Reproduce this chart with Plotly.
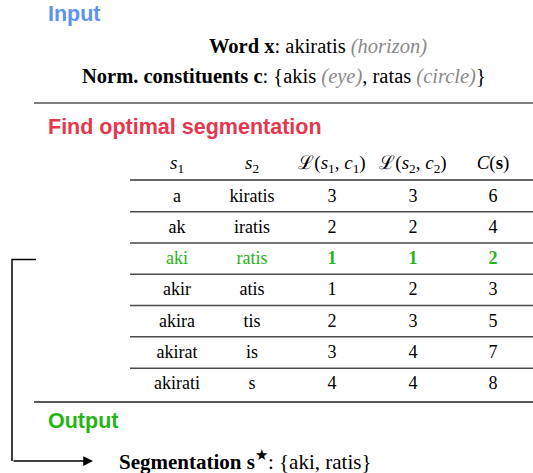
import plotly.graph_objects as go

# table data
s1 = ["a", "ak", "aki", "akir", "akira", "akirat", "akirati"]
s2 = ["kiratis", "iratis", "ratis", "atis", "tis", "is", "s"]
loss1 = [3, 2, 1, 1, 2, 3, 4]
loss2 = [3, 2, 1, 2, 3, 4, 4]
cost = [6, 4, 2, 3, 5, 7, 8]
headers = ["<i>s</i><sub>1</sub>", "<i>s</i><sub>2</sub>",
           "ℒ(<i>s</i><sub>1</sub>, <i>c</i><sub>1</sub>)",
           "ℒ(<i>s</i><sub>2</sub>, <i>c</i><sub>2</sub>)",
           "<i>C</i>(<b>s</b>)"]
best = cost.index(min(cost))

W, H = 533, 473
SERIF = "Liberation Serif, Times New Roman, serif"
SANS = "Liberation Sans, Arial, sans-serif"
BLUE = "#5b93ef"
RED = "#e5374d"
GREEN = "#26b417"
GREY = "#8a8a8a"
RULE = "#4a4a4a"

col_x = [177, 252, 332, 413, 493]
header_y = 164
row_y0, row_h = 197, 31.3

fig = go.Figure()

# header
fig.add_trace(go.Scatter(
    x=col_x, y=[header_y] * 5, mode="text", text=headers,
    textfont=dict(family=SERIF, size=19, color="black"),
    hoverinfo="skip",
))

# rows
columns = [s1, s2, loss1, loss2, cost]
for i in range(len(s1)):
    y = row_y0 + i * row_h
    txt = [str(c[i]) for c in columns]
    color = "black"
    if i == best:
        color = GREEN
        txt = txt[:2] + ["<b>%s</b>" % t for t in txt[2:]]
    fig.add_trace(go.Scatter(
        x=col_x, y=[y] * 5, mode="text", text=txt,
        textfont=dict(family=SERIF, size=18, color=color),
        hoverinfo="skip",
    ))

# table rules
fig.add_shape(type="line", x0=130, x1=W, y0=180, y1=180,
              line=dict(color="#666", width=2))
for i in range(len(s1) - 1):
    y = row_y0 + i * row_h + row_h / 2 - 1
    fig.add_shape(type="line", x0=130, x1=W, y0=y, y1=y,
                  line=dict(color=RULE, width=1.5))
fig.add_shape(type="line", x0=34, x1=W, y0=402, y1=402,
              line=dict(color="#222", width=1.5))
fig.add_shape(type="line", x0=34, x1=W, y0=103, y1=103,
              line=dict(color="#555", width=1.5))

# connector from best row to output
best_y = row_y0 + best * row_h
fig.add_shape(type="path", path="M 36 %f L 12 %f L 12 461" % (best_y, best_y),
              line=dict(color="black", width=1.5))
fig.add_annotation(x=93, y=461, ax=12, ay=461, axref="x", ayref="y",
                   xref="x", yref="y", text="", showarrow=True,
                   arrowhead=2, arrowsize=1.3, arrowwidth=1.5,
                   arrowcolor="black")

# section titles
fig.add_annotation(x=46, y=14, text="<b>Input</b>", xanchor="left",
                   showarrow=False, font=dict(family=SANS, size=21.5, color=BLUE))
fig.add_annotation(x=46, y=127, text="<b>Find optimal segmentation</b>",
                   xanchor="left", showarrow=False,
                   font=dict(family=SANS, size=21.5, color=RED))
fig.add_annotation(x=46, y=421, text="<b>Output</b>", xanchor="left",
                   showarrow=False, font=dict(family=SANS, size=21.5, color=GREEN))

# input / output text
fig.add_annotation(
    x=318, y=46, showarrow=False,
    text="<b>Word x</b>: akiratis <i><span style='color:%s'>(horizon)</span></i>" % GREY,
    font=dict(family=SERIF, size=20.5, color="black"))
fig.add_annotation(
    x=284, y=76, showarrow=False,
    text=("<b>Norm. constituents c</b>: {akis <i><span style='color:%s'>(eye)</span></i>, "
          "ratas <i><span style='color:%s'>(circle)</span></i>}") % (GREY, GREY),
    font=dict(family=SERIF, size=20.5, color="black"))
fig.add_annotation(
    x=117, y=460, xanchor="left", showarrow=False,
    text="<b>Segmentation s</b><sup>★</sup>: {%s, %s}" % (s1[best], s2[best]),
    font=dict(family=SERIF, size=21, color="black"))

fig.update_layout(
    width=W, height=H,
    margin=dict(l=0, r=0, t=0, b=0),
    plot_bgcolor="white", paper_bgcolor="white",
    showlegend=False,
)
fig.update_xaxes(range=[0, W], visible=False, fixedrange=True)
fig.update_yaxes(range=[H, 0], visible=False, fixedrange=True)

# drop the default page margin and scrollbars so the figure fills the window
fig.write_html(
    "out.html",
    config={"displayModeBar": False},
    post_script="document.body.style.margin='0';"
                "document.documentElement.style.overflow='hidden';",
)
